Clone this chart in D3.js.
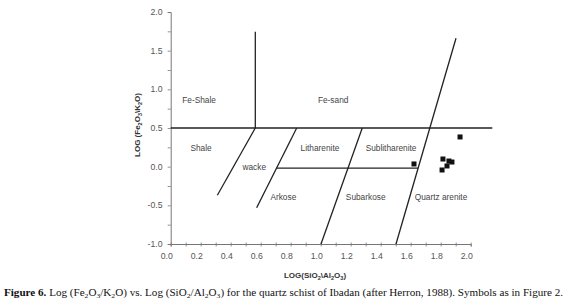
<!DOCTYPE html>
<html><head><meta charset="utf-8">
<script src="https://cdn.jsdelivr.net/npm/d3@7"></script>
<style>body{margin:0;background:#fff}svg{display:block}</style>
</head><body>
<svg id="c" width="568" height="301"></svg>
<script>
// ---- data ----
const xTicks = [0.0, 0.2, 0.4, 0.6, 0.8, 1.0, 1.2, 1.4, 1.6, 1.8, 2.0];
const yTicks = [-1.0, -0.5, 0.0, 0.5, 1.0, 1.5, 2.0];
const xMinor = d3.range(0, 2.0001, 0.1);
const yMinor = d3.range(-1, 2.0001, 0.25);
// classification boundaries (Herron, 1988) as [x, y] pairs
const boundaryLines = [
  [[0.0, 0.5], [2.144, 0.5]],
  [[0.564, 0.5], [0.564, 1.745]],
  [[0.564, 0.5], [0.311, -0.37]],
  [[0.84, 0.5], [0.573, -0.531]],
  [[0.705, -0.02], [1.649, -0.02]],
  [[1.277, 0.5], [1.002, -1.0]],
  [[1.902, 1.66], [1.502, -1.0]]
];
const fieldNames = ["Fe-Shale", "Fe-sand", "Shale", "wacke", "Litharenite", "Sublitharenite", "Arkose", "Subarkose", "Quartz arenite"];
const fieldX = [0.189, 1.083, 0.202, 0.557, 0.995, 1.469, 0.751, 1.30, 1.802];
const fieldY = [0.862, 0.862, 0.238, 0.0, 0.238, 0.238, -0.388, -0.388, -0.388];
const sampleX = [1.929, 1.622, 1.815, 1.855, 1.875, 1.842, 1.809];
const sampleY = [0.384, 0.035, 0.099, 0.073, 0.060, 0.009, -0.043];

// ---- layout ----
const svg = d3.select("#c");
const x = d3.scaleLinear().domain([0, 2]).range([170.7, 470.7]);
const y = d3.scaleLinear().domain([-1, 2]).range([244, 12]);
const axisCol = "#777", textCol = "#555";
const sans = "'Liberation Sans', Arial, sans-serif";

// axes
const xAxis = svg.append("g").attr("transform", "translate(0,244)")
  .call(d3.axisBottom(x).tickValues(xMinor).tickSize(2.5).tickFormat(""));
const yAxis = svg.append("g").attr("transform", "translate(170.7,0)")
  .call(d3.axisLeft(y).tickValues(yMinor).tickSize(3).tickFormat(""));
[xAxis, yAxis].forEach(g => {
  g.select(".domain").attr("stroke", axisCol).attr("stroke-width", 1);
  g.selectAll(".tick line").attr("stroke", axisCol).attr("stroke-width", 0.8);
});
xAxis.selectAll(".tick line").attr("y1", -1.5);
// tick labels
svg.append("g").selectAll("text").data(xTicks).join("text")
  .attr("x", d => x(d) - 4).attr("y", 258.5)
  .attr("text-anchor", "middle").attr("font-family", sans).attr("font-size", 8.7)
  .attr("fill", textCol).text(d => d.toFixed(1));
svg.append("g").selectAll("text").data(yTicks).join("text")
  .attr("x", 162.5).attr("y", d => y(d) + 3)
  .attr("text-anchor", "end").attr("font-family", sans).attr("font-size", 8.7)
  .attr("fill", textCol).text(d => d.toFixed(1));

// boundary lines
const line = d3.line().x(d => x(d[0])).y(d => y(d[1]));
svg.append("g").selectAll("path").data(boundaryLines).join("path")
  .attr("d", line).attr("fill", "none").attr("stroke", "#222").attr("stroke-width", 1.3);

// field labels
svg.append("g").selectAll("text").data(fieldNames).join("text")
  .attr("x", (d, i) => x(fieldX[i])).attr("y", (d, i) => y(fieldY[i]) + 3)
  .attr("text-anchor", "middle").attr("font-family", sans).attr("font-size", 8.3)
  .attr("fill", "#444").text(d => d);

// samples
svg.append("g").selectAll("rect").data(sampleX).join("rect")
  .attr("x", (d, i) => x(d) - 2.5).attr("y", (d, i) => y(sampleY[i]) - 2.5)
  .attr("width", 5).attr("height", 5).attr("fill", "#111");

// text with subscripts: "_" marks a subscript digit e.g. "Fe_2O_3"
function chem(sel, str, subSize, shift) {
  const re = /_(\d)/g;
  let last = 0, m, prevSub = false;
  while ((m = re.exec(str)) !== null) {
    const normal = str.slice(last, m.index);
    if (normal) {
      sel.append("tspan").attr("dy", prevSub ? -shift : null).text(normal);
      prevSub = false;
    }
    sel.append("tspan").attr("font-size", subSize).attr("dy", prevSub ? null : shift).text(m[1]);
    prevSub = true;
    last = re.lastIndex;
  }
  const rest = str.slice(last);
  if (rest) sel.append("tspan").attr("dy", prevSub ? -shift : null).text(rest);
}
const yt = svg.append("text").attr("transform", "translate(139.5,125) rotate(-90)")
  .attr("text-anchor", "middle").attr("font-family", sans).attr("font-size", 8)
  .attr("font-weight", "bold").attr("fill", "#333");
chem(yt, "LOG (Fe_2O_3\\K_2O)", 5.5, 2);
const xt = svg.append("text").attr("x", 315).attr("y", 277.5)
  .attr("text-anchor", "middle").attr("font-family", sans).attr("font-size", 8)
  .attr("font-weight", "bold").attr("fill", "#333");
chem(xt, "LOG(SiO_2\\Al_2O_3)", 5.5, 2);

// caption
const capSize = 10.2;
const cap = svg.append("text").attr("x", 4).attr("y", 296)
  .attr("font-family", "'Liberation Serif', 'Times New Roman', serif").attr("font-size", capSize).attr("fill", "#111");
cap.append("tspan").attr("font-weight", "bold").text("Figure 6.");
chem(cap, " Log (Fe_2O_3/K_2O) vs. Log (SiO_2/Al_2O_3) for the quartz schist of Ibadan (after Herron, 1988). Symbols as in Figure 2.", 7, 2);
const w = cap.node().getComputedTextLength();
if (w > 0) cap.attr("transform", `translate(4,0) scale(${559 / w},1) translate(-4,0)`);
</script>
</body></html>
